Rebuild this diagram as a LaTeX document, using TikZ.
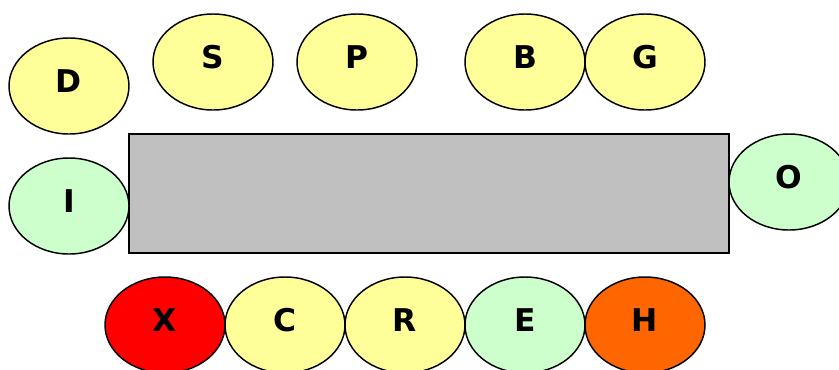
\documentclass[tikz,border=0pt]{standalone}
\usepackage{fontspec}
\setmainfont{DejaVu Sans}
\usepackage{tikz}
\usetikzlibrary{shapes.geometric}
\usepackage{xcolor}
\definecolor{pale}{HTML}{FFFF99}
\definecolor{mint}{HTML}{CCFFCC}
\definecolor{hot}{HTML}{FF6600}
\definecolor{box}{HTML}{C0C0C0}

\begin{document}
\begin{tikzpicture}[x=0.75pt, y=-0.75pt,
    every node/.style = {draw, line width=1.1pt},
    blob/.style = {ellipse, minimum width=90pt, minimum height=72pt, inner sep=0pt,
      font=\fontsize{23.5}{28}\selectfont\bfseries, text depth=7.5pt},
    yel/.style = {blob, fill=pale},
    grn/.style = {blob, fill=mint}
    ]
    \useasboundingbox (0,0) rectangle (839,369);
    \node[draw, fill=box, minimum width=450pt, minimum height=89.25pt, inner sep=0pt] (core) at (429,193.5) {};
    % top row
    \node[yel] (D) at (69,86) {D};
    \node[yel] (S) at (213,62) {S};
    \node[yel] (P) at (357,62) {P};
    \node[yel] (B) at (525,62) {B};
    \node[yel] (G) at (645,62) {G};
    % sides
    \node[grn] (I) at (69,206) {I};
    \node[grn] (O) at (789,182) {O};
    % bottom row
    \node[blob, fill=red] (X) at (165,325) {X};
    \node[yel] (C) at (285,325) {C};
    \node[yel] (R) at (405,325) {R};
    \node[grn] (E) at (525,325) {E};
    \node[blob, fill=hot] (H) at (645,325) {H};
\end{tikzpicture}
\end{document}
